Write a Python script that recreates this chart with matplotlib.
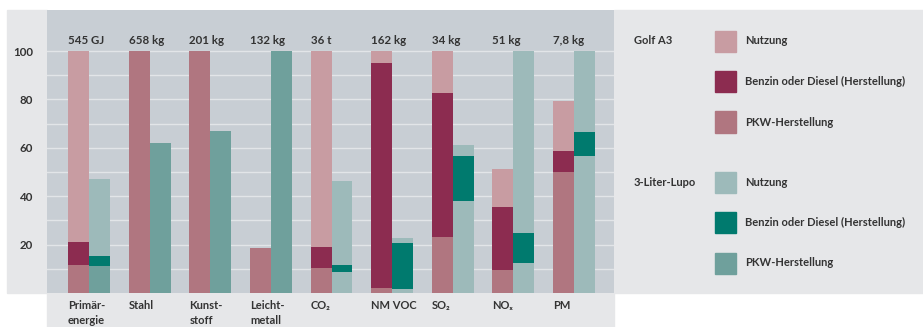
import matplotlib.pyplot as plt
from matplotlib.patches import Rectangle
import numpy as np

plt.rcParams['font.family'] = ['Lato', 'DejaVu Sans']

# Kategorien und Bezugsgrößen (Golf A3 = 100 %)
kategorien = ['Primär-\nenergie', 'Stahl', 'Kunst-\nstoff', 'Leicht-\nmetall', 'CO₂',
              'NM VOC', 'SO₂', 'NOₓ', 'PM']
bezug = ['545 GJ', '658 kg', '201 kg', '132 kg', '36 t', '162 kg', '34 kg', '51 kg', '7,8 kg']

# Golf A3: Segmentgrenzen (kumuliert, in %)
golf_pkw = [11.6, 100, 100, 18.7, 10.5, 2.1, 23.1, 9.5, 50.0]
golf_benzin = [21.1, 100, 100, 18.7, 19.0, 95.0, 82.6, 35.5, 58.7]
golf_gesamt = [100, 100, 100, 18.7, 100, 100, 100, 51.2, 79.3]

# 3-Liter-Lupo: Segmentgrenzen (kumuliert, in %)
lupo_unten = [11.2, 62.0, 66.9, 100, 8.7, 1.7, 38.0, 12.4, 56.6]
lupo_benzin = [15.3, 62.0, 66.9, 100, 11.6, 20.7, 56.6, 24.8, 66.5]
lupo_gesamt = [47.1, 62.0, 66.9, 100, 46.3, 22.7, 61.2, 100, 100]

golf_farben = {'Nutzung': '#c89ca2', 'Benzin': '#8c2c50', 'PKW': '#b07680'}
lupo_farben = {'Nutzung': '#9dbaba', 'Benzin': '#007a6e', 'PKW': '#6fa09c'}
hell = '#e6e7e9'
plot_bg = '#c8ced4'
textfarbe = '#333333'

fig = plt.figure(figsize=(9.23, 3.27), dpi=100)
W, H = 923, 327

def fig_rect(x0, y0, x1, y1, color, z=-1):
    # Rechteck in Pixelkoordinaten (y von oben)
    fig.patches.append(Rectangle((x0 / W, 1 - y1 / H), (x1 - x0) / W, (y1 - y0) / H,
                                 transform=fig.transFigure, color=color, zorder=z))

fig_rect(7, 10, 47, 293, hell)
fig_rect(47, 293, 614, 327, hell)
fig_rect(614, 10, 923, 293, hell)

ax = fig.add_axes([47 / W, 1 - 293 / H, (614 - 47) / W, (293 - 10) / H])
ax.set_facecolor(plot_bg)
for s in ax.spines.values():
    s.set_visible(False)

x = np.arange(len(kategorien))
bw = 0.345

ax.set_xlim(-0.693, 8.66)
ax.set_ylim(0, 117)
for g in range(10, 101, 10):
    ax.axhline(g, color='#e2e5e8', lw=1.0, zorder=1)

g_pkw = np.array(golf_pkw)
g_ben = np.array(golf_benzin)
g_ges = np.array(golf_gesamt)
ax.bar(x - bw / 2, g_pkw, bw, color=golf_farben['PKW'], zorder=2)
ax.bar(x - bw / 2, g_ben - g_pkw, bw, bottom=g_pkw, color=golf_farben['Benzin'], zorder=2)
ax.bar(x - bw / 2, g_ges - g_ben, bw, bottom=g_ben, color=golf_farben['Nutzung'], zorder=2)

l_unt = np.array(lupo_unten)
l_ben = np.array(lupo_benzin)
l_ges = np.array(lupo_gesamt)
# bei den Emissionen ist das untere Segment hell eingefärbt
unten_farben = [lupo_farben['PKW']] * 4 + [lupo_farben['Nutzung']] * 5
ax.bar(x + bw / 2, l_unt, bw, color=unten_farben, zorder=2)
ax.bar(x + bw / 2, l_ben - l_unt, bw, bottom=l_unt, color=lupo_farben['Benzin'], zorder=2)
ax.bar(x + bw / 2, l_ges - l_ben, bw, bottom=l_ben, color=lupo_farben['Nutzung'], zorder=2)

for xi, b in zip(x, bezug):
    ax.text(xi - bw, 104.4, b, ha='left', va='center', fontsize=8.3, fontweight='bold',
            color=textfarbe)

for xi, k in zip(x, kategorien):
    ax.text(xi - bw, -3.0, k, ha='left', va='top', fontsize=8, fontweight='bold',
            color=textfarbe, linespacing=1.45, clip_on=False)

ax.set_xticks([])
ax.set_yticks([20, 40, 60, 80, 100])
ax.tick_params(axis='y', length=0, pad=10, labelsize=8.3, labelcolor=textfarbe)
for lab in ax.get_yticklabels():
    lab.set_fontweight('bold')

# Legende rechts
def fig_text(px, py, s):
    fig.text(px / W, 1 - py / H, s, ha='left', va='center', fontsize=8, fontweight='bold',
             color=textfarbe)

eintraege = [('Golf A3', 41, golf_farben), ('3-Liter-Lupo', 182, lupo_farben)]
labels = [('Nutzung', 'Nutzung'), ('Benzin', 'Benzin oder Diesel (Herstellung)'),
          ('PKW', 'PKW-Herstellung')]
for titel, y0, farben in eintraege:
    fig_text(634, y0, titel)
    for i, (key, text) in enumerate(labels):
        yc = y0 + i * 40.5
        fig_rect(715, yc - 10.5, 736, yc + 10.5, farben[key], z=1)
        fig_text(745, yc, text)

fig.savefig('out.png', dpi=100, facecolor='white')
